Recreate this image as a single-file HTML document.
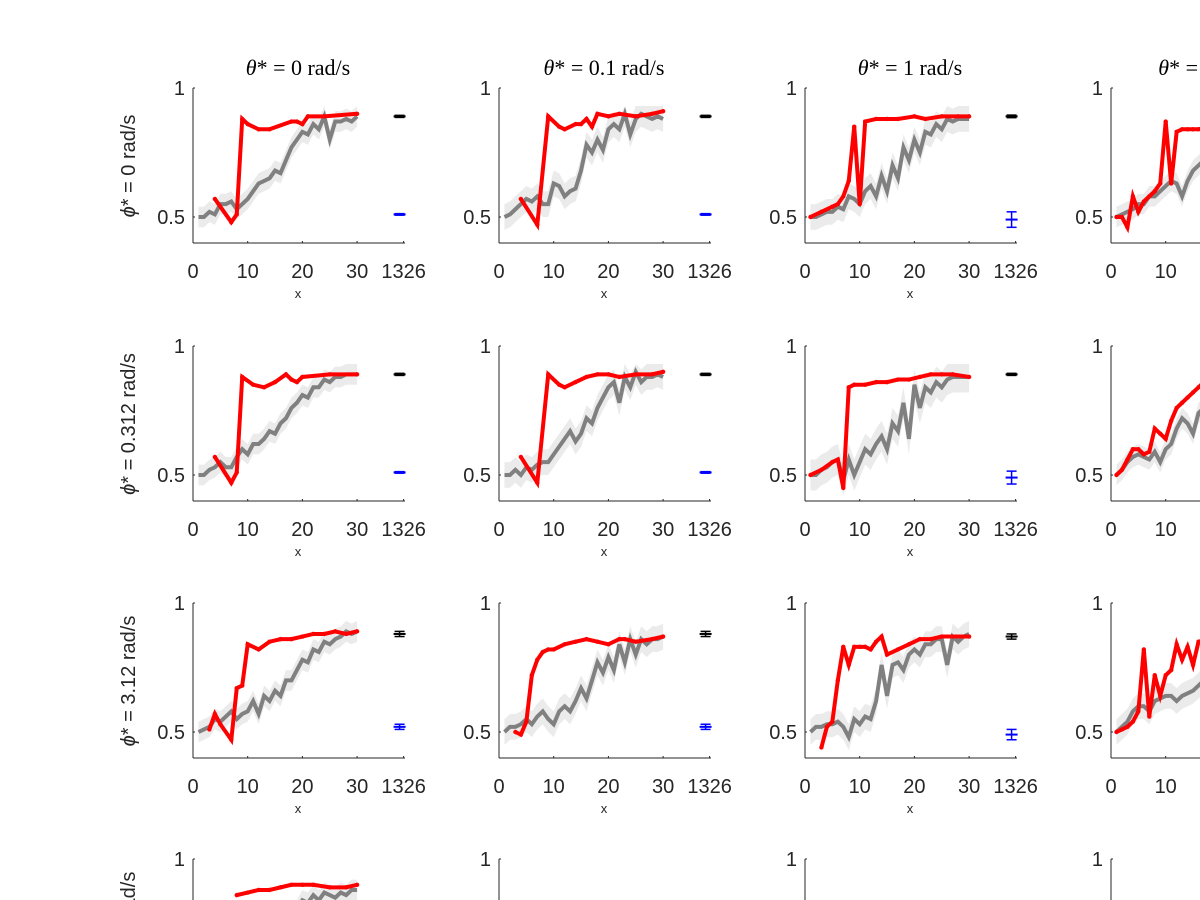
<!DOCTYPE html>
<html><head><meta charset="utf-8"><style>
html,body{margin:0;background:#fff;width:1200px;height:900px;overflow:hidden}
svg{display:block}
text{font-family:"Liberation Sans",sans-serif;fill:#262626}
.tt{font-family:"Liberation Serif",serif;font-size:22px;fill:#000}
</style></head><body>
<svg id="fig" width="1200" height="900" viewBox="0 0 1200 900" overflow="hidden">
<defs><clipPath id="clip"><rect x="0" y="0" width="1200" height="900"/></clipPath></defs>
<g id="root" clip-path="url(#clip)"></g>
</svg>
<script>
// ---- data ----
const colTitles = [" = 0 rad/s"," = 0.1 rad/s"," = 1 rad/s"," = 10 rad/s"];
const rowTitles = ["ϕ* = 0 rad/s","ϕ* = 0.312 rad/s","ϕ* = 3.12 rad/s","ϕ* = 31.2 rad/s"];
const xTicks = [0,10,20,30,38.5];
const xTickLabels = ["0","10","20","30","1326"];
const yTicks = [0.5,1];
const yTickLabels = ["0.5","1"];
const grayMean = [
 [[.50,.50,.52,.51,.55,.55,.56,.53,.55,.57,.60,.63,.64,.65,.68,.67,.72,.77,.80,.83,.82,.86,.84,.89,.80,.87,.87,.88,.87,.89],
  [.50,.51,.53,.55,.57,.56,.58,.55,.55,.63,.62,.58,.60,.61,.68,.78,.75,.80,.76,.84,.86,.84,.90,.82,.88,.90,.89,.88,.89,.88],
  [.50,.50,.51,.52,.52,.54,.53,.58,.57,.55,.60,.62,.58,.66,.60,.70,.65,.77,.72,.80,.75,.83,.82,.86,.84,.88,.87,.88,.88,.88],
  [.50,.51,.52,.53,.55,.55,.58,.58,.60,.62,.64,.63,.58,.64,.68,.70,.72,.75,.76,.78,.80,.82,.84,.85,.86,.87,.87,.88,.88,.88]],
 [[.50,.50,.52,.53,.55,.53,.53,.57,.60,.58,.62,.62,.64,.67,.66,.70,.72,.76,.78,.81,.80,.84,.84,.87,.86,.88,.88,.89,.89,.89],
  [.50,.50,.52,.50,.53,.52,.54,.55,.55,.58,.61,.64,.67,.63,.66,.72,.70,.76,.80,.84,.86,.78,.88,.84,.90,.86,.88,.88,.89,.88],
  [.50,.50,.52,.53,.55,.56,.48,.56,.50,.55,.60,.58,.62,.65,.60,.70,.67,.78,.64,.85,.76,.84,.82,.86,.84,.87,.88,.88,.88,.88],
  [.50,.52,.55,.57,.58,.57,.56,.59,.55,.60,.62,.68,.72,.70,.66,.74,.76,.72,.78,.80,.82,.84,.85,.86,.86,.87,.87,.88,.88,.88]],
 [[.50,.51,.52,.55,.54,.56,.58,.55,.57,.58,.62,.57,.64,.62,.66,.64,.70,.70,.74,.78,.77,.82,.81,.85,.84,.86,.87,.89,.88,.89],
  [.50,.52,.52,.53,.55,.53,.56,.58,.55,.53,.58,.60,.58,.62,.67,.63,.70,.77,.73,.79,.74,.84,.77,.86,.80,.86,.84,.86,.86,.87],
  [.50,.52,.52,.53,.53,.54,.52,.48,.55,.53,.56,.55,.62,.76,.64,.76,.77,.74,.80,.82,.80,.84,.84,.86,.86,.76,.87,.85,.87,.88],
  [.50,.52,.54,.58,.60,.60,.58,.62,.63,.64,.64,.62,.64,.65,.66,.68,.70,.75,.76,.78,.80,.82,.83,.84,.85,.86,.86,.87,.87,.87]],
 [[.50,.50,.52,.53,.55,.56,.57,.58,.60,.62,.64,.66,.68,.70,.72,.74,.76,.78,.80,.84,.83,.86,.84,.87,.86,.85,.87,.86,.88,.88],null,null,null]
];
const bandHalf = [[.04,.05,.05,.04],[.04,.05,.06,.04],[.04,.05,.05,.05],[.04,0,0,0]];
const redX = [
 [[4,7,8,9,10,12,14,18,19,20,21,24,30],[4,7,9,11,12,14,15,16,17,18,20,22,25,28,30],
  [1,3,5,6,7,8,9,10,11,13,15,17,20,22,25,28,30],[1,2,3,4,5,6,7,8,9,10,11,12,13,14,15,16,18,20,24,30]],
 [[4,7,8,9,11,13,15,17,18,19,20,25,30],[4,7,9,11,12,14,16,18,20,22,25,28,30],
  [1,3,5,6,7,8,9,11,13,15,17,19,21,23,25,27,30],[1,2,3,4,5,6,7,8,9,10,11,12,13,14,15,16,17,20,25,30]],
 [[3,4,5,7,8,9,10,12,14,16,18,20,22,24,26,28,30],[3,4,5,6,7,8,9,10,12,14,16,18,20,22,23,25,28,30],
  [3,4,5,6,7,8,9,10,11,12,13,14,15,17,19,21,23,25,27,30],[1,2,3,4,5,6,7,8,9,10,11,12,13,14,15,16,18,20,25,30]],
 [[8,10,12,14,16,18,20,22,25,28,30],null,null,null]
];
const redY = [
 [[.57,.48,.51,.88,.86,.84,.84,.87,.87,.86,.89,.89,.90],[.57,.47,.89,.85,.84,.86,.86,.88,.85,.90,.89,.90,.89,.90,.91],
  [.50,.52,.54,.55,.58,.64,.85,.55,.87,.88,.88,.88,.89,.88,.89,.89,.89],[.50,.50,.46,.58,.52,.56,.58,.60,.63,.87,.63,.83,.84,.84,.84,.84,.85,.86,.87,.88]],
 [[.57,.47,.51,.88,.85,.84,.86,.89,.87,.86,.88,.89,.89],[.57,.47,.89,.85,.84,.86,.88,.89,.89,.88,.89,.89,.90],
  [.50,.52,.55,.56,.45,.84,.85,.85,.86,.86,.87,.87,.88,.89,.89,.89,.88],[.50,.52,.56,.60,.60,.58,.59,.68,.66,.64,.71,.76,.78,.80,.82,.84,.86,.87,.88,.88]],
 [[.51,.57,.53,.47,.67,.68,.84,.82,.85,.86,.86,.87,.88,.88,.89,.88,.89],[.50,.49,.54,.72,.78,.81,.82,.82,.84,.85,.86,.85,.84,.86,.86,.85,.86,.87],
  [.44,.52,.54,.70,.83,.76,.83,.83,.83,.82,.85,.87,.80,.82,.84,.86,.86,.87,.87,.87],[.50,.51,.52,.54,.58,.82,.56,.72,.64,.72,.74,.84,.78,.83,.76,.85,.86,.87,.87,.88]],
 [[.86,.87,.88,.88,.89,.90,.90,.90,.89,.89,.90],null,null,null]
];
const endBlack = [[.89,.89,.89,.89],[.89,.89,.89,.89],[.88,.88,.87,.87],[null,null,null,null]];
const endBlackErr = [[.004,.004,.005,.005],[.004,.004,.004,.004],[.01,.01,.01,.01],[0,0,0,0]];
const endBlue = [[.51,.51,.49,.49],[.51,.51,.49,.49],[.52,.52,.49,.49],[null,null,null,null]];
const endBlueErr = [[.003,.003,.03,.03],[.003,.003,.025,.025],[.01,.01,.02,.02],[0,0,0,0]];

// ---- layout ----
const NS="http://www.w3.org/2000/svg";
const svg=document.getElementById('root');
const colX0=[193,499,805,1111], rowTop=[88,346,603,859];
const PXU=5.47, AXW=212, AXH=155;
function mk(tag,attrs,parent){const e=document.createElementNS(NS,tag);for(const k in attrs)e.setAttribute(k,attrs[k]);(parent||svg).appendChild(e);return e;}
function sx(c,v){return colX0[c]+v*PXU;}
function sy(r,v){return rowTop[r]+(1-v)*258;}

for(let c=0;c<4;c++){
  const t=mk('text',{x:colX0[c]+105,y:75,'text-anchor':'middle',class:'tt'});
  
  
  t.innerHTML='<tspan font-style="italic">θ</tspan>*'+colTitles[c];
}
for(let r=0;r<4;r++){
  const cy=rowTop[r]+78;
  const t=mk('text',{x:0,y:0,'text-anchor':'middle','font-size':20,transform:`translate(135,${cy}) rotate(-90)`});
  
  
  t.innerHTML='<tspan font-style="italic">ϕ</tspan>'+rowTitles[r].slice(1);
}

for(let r=0;r<4;r++)for(let c=0;c<4;c++){
  const g=mk('g',{});
  
  
  const x0=colX0[c], top=rowTop[r], bot=Math.min(top+AXH,900);
  const gm=grayMean[r][c];
  if(gm){
    const hw=bandHalf[r][c];
    let up=gm.map((v,i)=>sx(c,i+1)+','+sy(r,Math.min(v+hw,0.93)));
    let dn=gm.map((v,i)=>sx(c,i+1)+','+sy(r,v-hw)).reverse();
    const band=mk('polygon',{points:up.concat(dn).join(' '),fill:'#ebebeb'},g);
    
    
    const gl=mk('polyline',{points:gm.map((v,i)=>sx(c,i+1)+','+sy(r,v)).join(' '),fill:'none',stroke:'#808080','stroke-width':4},g);
    
    
  }
  const rx=redX[r][c], ry=redY[r][c];
  if(rx){
    const rl=mk('polyline',{points:rx.map((x,i)=>sx(c,x)+','+sy(r,ry[i])).join(' '),fill:'none',stroke:'#ff0000','stroke-width':4},g);
    
    
    rx.forEach((x,i)=>{
      const d=mk('circle',{cx:sx(c,x),cy:sy(r,ry[i]),r:2.2,fill:'#ff0000'},g);
      
      
    });
  }
  const ya=mk('line',{x1:x0,y1:top,x2:x0,y2:bot,stroke:'#262626','stroke-width':1},g);
  
  
  if(r<3){
    const xa=mk('line',{x1:x0,y1:bot,x2:x0+AXW,y2:bot,stroke:'#262626','stroke-width':1},g);
    
    
    xTicks.forEach((v,i)=>{
      mk('line',{x1:sx(c,v),y1:bot,x2:sx(c,v),y2:bot-2,stroke:'#262626'},g);
      const t=mk('text',{x:sx(c,v),y:bot+35,'text-anchor':'middle','font-size':20},g);
      
      
      t.textContent=xTickLabels[i];
    });
    const xl=mk('text',{x:x0+105,y:bot+55,'text-anchor':'middle','font-size':13},g);
    
    
    xl.textContent='x';
  }
  yTicks.forEach((v,i)=>{
    const y=sy(r,v);
    if(y>900)return;
    mk('line',{x1:x0,y1:y,x2:x0+2,y2:y,stroke:'#262626'},g);
    const t=mk('text',{x:x0-8,y:y+7,'text-anchor':'end','font-size':20},g);
    
    
    t.textContent=yTickLabels[i];
  });
  [[endBlack[r][c],endBlackErr[r][c],'#000'],[endBlue[r][c],endBlueErr[r][c],'#0000ff']].forEach(([v,e,col])=>{
    if(v==null)return;
    const ex=sx(c,38.5)-4;
    const eg=mk('g',{stroke:col,'stroke-width':1.5},g);
    
    
    mk('line',{x1:ex,y1:sy(r,v-e),x2:ex,y2:sy(r,v+e)},eg);
    mk('line',{x1:ex-5,y1:sy(r,v-e),x2:ex+5,y2:sy(r,v-e)},eg);
    mk('line',{x1:ex-5,y1:sy(r,v+e),x2:ex+5,y2:sy(r,v+e)},eg);
    mk('line',{x1:ex-6,y1:sy(r,v),x2:ex+6,y2:sy(r,v),'stroke-width':2},eg);
  });
}
</script>
</body></html>
